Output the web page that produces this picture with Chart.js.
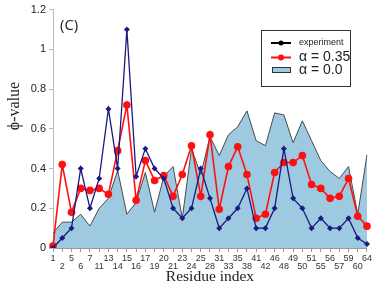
<!DOCTYPE html>
<html>
<head>
<meta charset="utf-8">
<script src="https://cdn.jsdelivr.net/npm/chart.js@4.4.0/dist/chart.umd.min.js"></script>
<style>
html,body{margin:0;padding:0;background:#fff;}
#wrap{position:relative;width:374px;height:290px;}
</style>
</head>
<body>
<div id="wrap"><canvas id="c"></canvas></div>
<script>
const categories = [1,2,5,6,7,11,13,14,15,16,17,19,20,21,23,24,25,28,31,33,35,38,41,42,46,48,49,50,51,55,56,57,59,60,64];
const experiment = [0.0,0.05,0.1,0.4,0.2,0.35,0.7,0.4,1.1,0.36,0.5,0.4,0.35,0.2,0.15,0.2,0.4,0.25,0.1,0.15,0.2,0.3,0.1,0.1,0.2,0.5,0.25,0.2,0.1,0.15,0.1,0.1,0.15,0.05,0.02];
const alpha035 = [0.01,0.42,0.18,0.30,0.29,0.30,0.27,0.49,0.72,0.24,0.44,0.34,0.365,0.26,0.37,0.515,0.26,0.57,0.195,0.41,0.51,0.37,0.15,0.17,0.38,0.43,0.43,0.465,0.32,0.30,0.25,0.26,0.35,0.16,0.11];
const alpha0 = [0.075,0.13,0.13,0.17,0.11,0.2,0.25,0.39,0.17,0.23,0.38,0.18,0.36,0.41,0.15,0.5,0.37,0.56,0.465,0.57,0.61,0.69,0.54,0.515,0.68,0.67,0.53,0.64,0.54,0.44,0.385,0.35,0.41,0.17,0.47];
const yTicks = [0,0.2,0.4,0.6,0.8,1,1.2];
const legendLabels = ['experiment','\u03B1 = 0.35','\u03B1 = 0.0'];
const panelLabel = '(C)';
const xTitle = 'Residue index';
const yTitle = '\u03D5-value';

const BLUE = '#1a1a80', RED = '#ff1010', FILL = '#9ecae1', OUTLINE = '#4a4a4a';

const xLabels = categories.map((c,i)=> i%2===0 ? [String(c)] : ['', String(c)]);

const overlay = {
  id:'overlay',
  afterDraw(chart){
    const ctx = chart.ctx;
    ctx.save();
    ctx.fillStyle = '#222';
    ctx.font = '15px "Open Sans", "Liberation Sans", sans-serif';
    ctx.textBaseline = 'middle';
    ctx.textAlign = 'left';
    ctx.fillText(panelLabel, 60, 26);
    ctx.save();
    ctx.translate(15, 106);
    ctx.rotate(-Math.PI/2);
    ctx.textAlign = 'center';
    ctx.font = '16px "Liberation Serif", serif';
    ctx.fillText(yTitle, 0, 0);
    ctx.restore();
    ctx.fillStyle = '#fff';
    ctx.fillRect(261.5, 30.5, 89, 56);
    ctx.strokeStyle = '#333';
    ctx.lineWidth = 1;
    ctx.strokeRect(261.5, 30.5, 89, 56);
    ctx.strokeStyle = '#000'; ctx.lineWidth = 2;
    ctx.beginPath(); ctx.moveTo(271, 43); ctx.lineTo(291, 43); ctx.stroke();
    ctx.fillStyle = '#000';
    ctx.beginPath(); ctx.arc(281, 43, 2.5, 0, Math.PI*2); ctx.fill();
    ctx.fillStyle = '#222';
    ctx.textAlign = 'left';
    ctx.font = '9px "Liberation Sans", Arial, sans-serif';
    ctx.fillText(legendLabels[0], 299, 43);
    ctx.strokeStyle = RED; ctx.lineWidth = 2;
    ctx.beginPath(); ctx.moveTo(271, 57.5); ctx.lineTo(291, 57.5); ctx.stroke();
    ctx.fillStyle = RED;
    ctx.beginPath(); ctx.arc(281, 57.5, 3, 0, Math.PI*2); ctx.fill();
    ctx.fillStyle = '#222';
    ctx.font = '14px "Liberation Sans", Arial, sans-serif';
    ctx.fillText(legendLabels[1], 299, 57.5);
    ctx.fillStyle = FILL;
    ctx.fillRect(272.5, 67.5, 18, 5);
    ctx.strokeStyle = '#333'; ctx.lineWidth = 1;
    ctx.strokeRect(272.5, 67.5, 18, 5);
    ctx.fillStyle = '#222';
    ctx.fillText(legendLabels[2], 299, 70.5);
    ctx.restore();
  }
};

new Chart(document.getElementById('c'), {
  type:'line',
  data:{
    labels: xLabels,
    datasets:[
      {label: legendLabels[0], data: experiment, borderColor: BLUE, backgroundColor: BLUE,
       borderWidth:1.3, pointStyle:'rectRot', pointRadius:3, pointBorderWidth:0, tension:0, fill:false},
      {label: legendLabels[1], data: alpha035, borderColor: RED, backgroundColor: RED,
       borderWidth:1.6, pointStyle:'circle', pointRadius:3.8, pointBorderWidth:0, tension:0, fill:false},
      {label: legendLabels[2], data: alpha0, borderColor: OUTLINE, backgroundColor: FILL,
       borderWidth:1, pointRadius:0, tension:0, fill:'origin'}
    ]
  },
  options:{
    responsive:true, maintainAspectRatio:false, animation:false,
    layout:{padding:{left:0,right:6,top:8,bottom:0}},
    plugins:{legend:{display:false}, tooltip:{enabled:false}},
    scales:{
      x:{
        offset:false,
        afterFit(s){ s.height = 42; },
        grid:{display:true, drawOnChartArea:false, tickLength:4, color:'#999'},
        border:{display:true, color:'#999'},
        ticks:{autoSkip:false, maxRotation:0, minRotation:0, padding:2, color:'#333',
               font:{family:'"Liberation Sans", Arial, sans-serif', size:9, lineHeight:0.9}},
        title:{display:true, text:xTitle, color:'#222', padding:{top:0,bottom:4},
               font:{family:'"Liberation Serif", serif', size:15.5}}
      },
      y:{
        min:0, max:1.2,
        afterFit(s){ s.width = 53; },
        afterBuildTicks(s){ s.ticks = yTicks.map(v=>({value:v})); },
        grid:{display:true, drawOnChartArea:false, tickLength:4, color:'#bbb'},
        border:{display:true, color:'#bbb'},
        ticks:{padding:3, color:'#222', callback:v=>String(Math.round(v*10)/10),
               font:{family:'"Liberation Sans", Arial, sans-serif', size:11}}
      }
    }
  },
  plugins:[overlay]
});
</script>
</body>
</html>
